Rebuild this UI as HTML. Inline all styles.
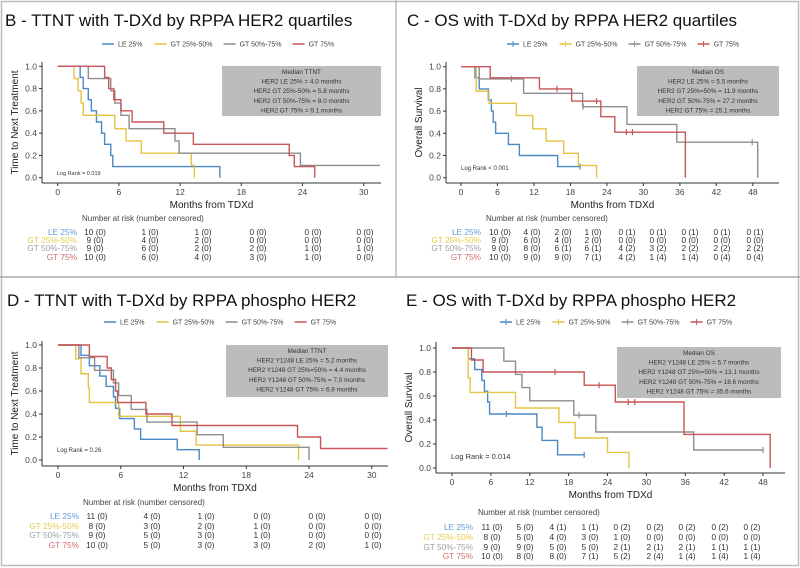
<!DOCTYPE html>
<html><head><meta charset="utf-8">
<style>
html,body{margin:0;padding:0;background:#fff}
svg{display:block;font-family:"Liberation Sans",Arial,sans-serif}
</style></head><body>
<svg id="s" width="800" height="568" viewBox="0 0 800 568" xmlns="http://www.w3.org/2000/svg">
<rect x="0" y="0" width="800" height="568" fill="#fff"/>
<rect x="1.5" y="1.5" width="797" height="564" fill="none" stroke="#bbb" stroke-width="1.5"/>
<line x1="0" y1="277" x2="800" y2="277" stroke="#aaa" stroke-width="1.5"/>
<line x1="396" y1="0" x2="396" y2="277" stroke="#aaa" stroke-width="1.2"/>
</svg>
<script>
const NS="http://www.w3.org/2000/svg",S=document.getElementById('s');
function el(t,a,txt){const e=document.createElementNS(NS,t);for(const k in a)e.setAttribute(k,a[k]);if(txt!==undefined)e.textContent=txt;S.appendChild(e);return e;}
const C={b:'#4a88c6',y:'#e3c443',g:'#8e8e8e',r:'#c85557'};
const LC={b:'#5d9bd6',y:'#e8cc4c',g:'#a0a0a0',r:'#cf6d6f'};
function panel(p){
 el('text',{x:p.tx,y:p.ty,'font-size':17,fill:'#111'},p.title);
 // legend
 const names=['LE 25%','GT 25%-50%','GT 50%-75%','GT 75%'],keys=['b','y','g','r'];
 let lx=p.lx;
 names.forEach((n,i)=>{el('line',{x1:lx,y1:p.ly,x2:lx+12,y2:p.ly,stroke:C[keys[i]],'stroke-width':1.5});
  if(p.plus)el('line',{x1:lx+6,y1:p.ly-3,x2:lx+6,y2:p.ly+3,stroke:C[keys[i]],'stroke-width':1});
  el('text',{x:lx+16,y:p.ly+2.5,'font-size':7,fill:'#444'},n);lx+=16+n.length*4.1+12;});
 const X=t=>p.x0+t*p.px,Y=s=>p.y1+(1-s)*(p.y0-p.y1);
 // axes
 el('line',{x1:p.ax,y1:p.ay0,x2:p.ax,y2:p.ay,stroke:'#333','stroke-width':1});
 el('line',{x1:p.ax,y1:p.ay,x2:p.axr,y2:p.ay,stroke:'#333','stroke-width':1});
 [0,0.2,0.4,0.6,0.8,1.0].forEach(v=>{el('line',{x1:p.ax-3,y1:Y(v),x2:p.ax,y2:Y(v),stroke:'#333'});
  el('text',{x:p.ax-5,y:Y(v)+3,'font-size':8.5,fill:'#444','text-anchor':'end'},v.toFixed(1));});
 p.xt.forEach(v=>{el('line',{x1:X(v),y1:p.ay,x2:X(v),y2:p.ay+3,stroke:'#333'});
  el('text',{x:X(v),y:p.ay+12,'font-size':8.5,fill:'#444','text-anchor':'middle'},v);});
 el('text',{x:(p.ax+p.axr)/2,y:p.ay+25,'font-size':10,fill:'#222','text-anchor':'middle'},'Months from TDXd');
 const yc=(p.ay0+p.ay)/2;
 el('text',{x:p.ytx,y:yc,'font-size':10,fill:'#222','text-anchor':'middle',transform:`rotate(-90 ${p.ytx} ${yc})`},p.ylab);
 // box
 el('rect',{x:p.bx,y:p.by,width:p.bw,height:p.bh,fill:'#bcbcbc'});
 p.box.forEach((t,i)=>el('text',{x:p.bx+p.bw/2,y:p.by+8+i*9.6,'font-size':6.4,fill:'#333','text-anchor':'middle'},t));
 el('text',{x:p.lrx,y:p.lry,'font-size':p.lrs,fill:'#333'},p.lr);
 // curves
 keys.forEach(k=>{const c=p.c[k];let s=1,d=`M${X(0)},${Y(1)}`;
  c.st.forEach(([t,v])=>{d+=` H${X(t)} V${Y(v)}`;s=v;});
  d+=` H${X(c.end)}`; if(c.drop)d+=` V${Y(0)}`;
  el('path',{d,fill:'none',stroke:C[k],'stroke-width':1.4});
  (c.cen||[]).forEach(t=>{let v=1;c.st.forEach(([tt,vv])=>{if(tt<=t)v=vv;});
   el('line',{x1:X(t),y1:Y(v)-3,x2:X(t),y2:Y(v)+3,stroke:C[k],'stroke-width':1.2});});});
 // risk table
 el('text',{x:p.nx,y:p.ny,'font-size':8,fill:'#444'},'Number at risk (number censored)');
 const rl=['LE 25%','GT 25%-50%','GT 50%-75%','GT 75%'];
 p.risk.forEach((row,i)=>{el('text',{x:p.rlx,y:p.ry[i],'font-size':8.3,fill:LC[keys[i]],'text-anchor':'end'},rl[i]);
  row.forEach((v,j)=>el('text',{x:p.rc[j],y:p.ry[i],'font-size':8.3,fill:'#333','text-anchor':'middle'},v));});
}
panel({title:'B - TTNT with T-DXd by RPPA HER2 quartiles',tx:5,ty:26,lx:102,ly:44,plus:false,
 x0:57.7,px:10.2,y1:66.3,y0:177.7,ax:42,ay0:62,ay:183,axr:381,xt:[0,6,12,18,24,30],ytx:18,ylab:'Time to Next Treatment',
 bx:222,by:66,bw:159,bh:50,box:['Median TTNT','HER2 LE 25% = 4.0 months','HER2 GT 25%-50% = 5.8 months','HER2 GT 50%-75% = 8.0 months','HER2 GT 75% = 9.1 months'],
 lr:'Log Rank = 0.019',lrx:57,lry:175,lrs:5.5,
 c:{b:{st:[[2.2,.9],[2.5,.8],[3,.7],[3.3,.6],[3.8,.5],[4.3,.4],[4.6,.3],[5.2,.2],[5.4,.1]],end:15.9,drop:1},
  y:{st:[[1.6,.89],[2,.78],[2.3,.67],[2.5,.56],[5.6,.44],[6.7,.33],[8.2,.22],[13.1,.11]],end:13.4,drop:1},
  g:{st:[[3,.89],[5.2,.78],[5.6,.67],[6.2,.56],[7,.44],[11.5,.33],[11.9,.22],[23.8,.11]],end:31.6},
  r:{st:[[4.6,.9],[5,.8],[5.5,.7],[6.2,.6],[7.3,.5],[10.4,.4],[13.3,.3],[22.7,.2],[23.2,.1]],end:25.2,drop:1}},
 nx:82,ny:221,rlx:77,ry:235,ry:[235,243,251,260],rc:[95,150,203,258,313,365],
 risk:[['10 (0)','1 (0)','1 (0)','0 (0)','0 (0)','0 (0)'],['9 (0)','4 (0)','2 (0)','0 (0)','0 (0)','0 (0)'],['9 (0)','6 (0)','2 (0)','2 (0)','1 (0)','1 (0)'],['10 (0)','6 (0)','4 (0)','3 (0)','1 (0)','0 (0)']]});
panel({title:'C - OS with T-DXd by RPPA HER2 quartiles',tx:407,ty:26,lx:507,ly:44,plus:true,
 x0:461,px:6.08,y1:66.7,y0:177.7,ax:446,ay0:62,ay:183,axr:779,xt:[0,6,12,18,24,30,36,42,48],ytx:422,ylab:'Overall Survival',
 bx:637,by:66,bw:142,bh:50,box:['Median OS','HER2 LE 25% = 5.5 months','HER2 GT 25%=50% = 11.9 months','HER2 GT 50%-75% = 27.2 months','HER2 GT 75% = 25.1 months'],
 lr:'Log Rank < 0.001',lrx:461,lry:170,lrs:6,
 c:{b:{st:[[2.3,.9],[3,.8],[4.5,.7],[5,.6],[5.3,.5],[5.7,.4],[7.8,.3],[9.6,.2],[15.9,.1]],end:19.6,cen:[19.6]},
  y:{st:[[2.5,.78],[4.6,.67],[9.1,.56],[11.8,.44],[14,.33],[16.9,.22],[19.3,.11]],end:22.3,drop:1},
  g:{st:[[3,.89],[10.3,.76],[20,.64],[27.3,.48],[35.5,.32]],end:48.8,drop:1,cen:[8.3,20.1,47.9]},
  r:{st:[[4.8,.9],[12.9,.8],[18.2,.69],[23,.55],[25.3,.41]],end:36.9,drop:1,cen:[15.8,22.3,27.2,28.2]}},
 nx:486,ny:221,rlx:481,ry:[235,243,251,260],rc:[500,532,563,593,627,658,690,722,755],
 risk:[['10 (0)','4 (0)','2 (0)','1 (0)','0 (1)','0 (1)','0 (1)','0 (1)','0 (1)'],['9 (0)','6 (0)','4 (0)','2 (0)','0 (0)','0 (0)','0 (0)','0 (0)','0 (0)'],['9 (0)','8 (0)','6 (1)','6 (1)','4 (2)','3 (2)','2 (2)','2 (2)','2 (2)'],['10 (0)','9 (0)','9 (0)','7 (1)','4 (2)','1 (4)','1 (4)','0 (4)','0 (4)']]});
panel({title:'D - TTNT with T-DXd by RPPA phospho HER2',tx:7,ty:306,lx:104,ly:322,plus:false,
 x0:58,px:10.46,y1:345,y0:460,ax:42,ay0:341,ay:466,axr:388,xt:[0,6,12,18,24,30],ytx:18,ylab:'Time to Next Treatment',
 bx:226,by:345,bw:162,bh:52,box:['Median TTNT','HER2 Y1248 LE 25% = 5.2 months','HER2 Y1248 GT 25%=50% = 4.4 months','HER2 Y1248 GT 50%-75% = 7.0 months','HER2 Y1248 GT 75% = 6.9 months'],
 lr:'Log Rank = 0.26',lrx:57,lry:452,lrs:6,
 c:{b:{st:[[2.2,.91],[3,.82],[4,.73],[4.6,.64],[5.3,.55],[5.5,.45],[5.9,.36],[7.3,.27],[7.9,.18],[11.4,.09]],end:13.5,drop:1},
  y:{st:[[1.7,.88],[2.2,.75],[2.9,.63],[3,.5],[5.8,.38],[11.7,.25],[13.2,.13]],end:23,drop:1},
  g:{st:[[2,.89],[3.5,.78],[5.3,.67],[5.8,.56],[7,.44],[8.5,.33],[13.3,.22],[15.8,.11]],end:24,drop:1},
  r:{st:[[3,.9],[4.7,.8],[5.1,.7],[5.5,.6],[5.7,.5],[8.4,.4],[10.9,.3],[22.9,.2],[25.1,.1]],end:31.5}},
 nx:83,ny:505,rlx:79,ry:[519,529,538,548],rc:[97,152,206,262,317,373],
 risk:[['11 (0)','4 (0)','1 (0)','0 (0)','0 (0)','0 (0)'],['8 (0)','3 (0)','2 (0)','1 (0)','0 (0)','0 (0)'],['9 (0)','5 (0)','3 (0)','1 (0)','0 (0)','0 (0)'],['10 (0)','5 (0)','3 (0)','3 (0)','2 (0)','1 (0)']]});
panel({title:'E - OS with T-DXd by RPPA phospho HER2',tx:406,ty:306,lx:500,ly:322,plus:true,
 x0:452,px:6.48,y1:348,y0:468,ax:436,ay0:342,ay:473,axr:785,xt:[0,6,12,18,24,30,36,42,48],ytx:412,ylab:'Overall Survival',
 bx:617,by:347,bw:164,bh:51,box:['Median OS','HER2 Y1248 LE 25% = 5.7 months','HER2 Y1248 GT 25%=50% = 13.1 months','HER2 Y1248 GT 50%-75% = 18.6 months','HER2 Y1248 GT 75% = 35.6 months'],
 lr:'Log Rank = 0.014',lrx:451,lry:459,lrs:7.5,
 c:{b:{st:[[2.5,.91],[3.5,.82],[4.6,.73],[5,.64],[5.5,.55],[5.8,.45],[13.1,.34],[13.9,.23],[16.3,.11]],end:20.4,cen:[8.4,20.4]},
  y:{st:[[2.5,.75],[2.8,.63],[9.8,.5],[16.5,.38],[19,.25],[24,.13]],end:27.3,drop:1},
  g:{st:[[8,.89],[9.8,.78],[10.8,.67],[12,.56],[18.8,.44],[22.2,.3],[37.3,.15]],end:48,cen:[19.6,48]},
  r:{st:[[3,.9],[4.8,.8],[20.4,.69],[25.2,.55],[35.8,.28]],end:49.1,drop:1,cen:[15.9,22.7,27.2,28.2]}},
 nx:478,ny:515,rlx:473,ry:[530,540,550,559],rc:[492,525,558,590,622,655,687,720,752],
 risk:[['11 (0)','5 (0)','4 (1)','1 (1)','0 (2)','0 (2)','0 (2)','0 (2)','0 (2)'],['8 (0)','5 (0)','4 (0)','3 (0)','1 (0)','0 (0)','0 (0)','0 (0)','0 (0)'],['9 (0)','9 (0)','5 (0)','5 (0)','2 (1)','2 (1)','2 (1)','1 (1)','1 (1)'],['10 (0)','8 (0)','8 (0)','7 (1)','5 (2)','2 (4)','1 (4)','1 (4)','1 (4)']]});
</script>
</body></html>
